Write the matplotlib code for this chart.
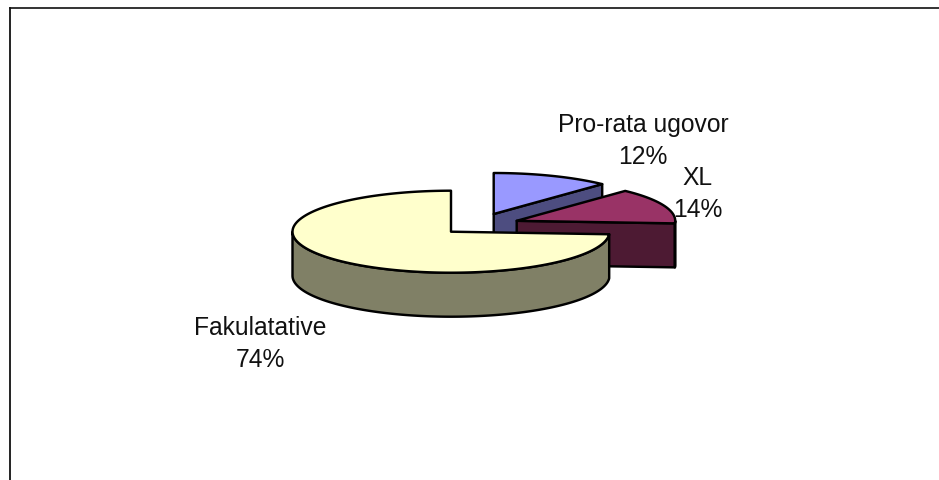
import numpy as np
import matplotlib.pyplot as plt
from matplotlib.patches import Polygon

labels = ["Pro-rata ugovor", "XL", "Fakulatative"]
shares = [12, 14, 74]
top_colors = ["#9999ff", "#993366", "#ffffcc"]
side_colors = ["#4d4d80", "#4d1a33", "#808066"]

# apex of each exploded slice in image pixels
centers = [(493.7, 215.0), (516.7, 221.8), (451.0, 232.7)]
label_pos = [(643, 141), (698, 194), (260.5, 344)]

RX = 158.5
RY = 41.0
DEPTH = 44.0


def arc(cx, cy, a0, a1):
    t = np.radians(np.linspace(a0, a1, 200))
    return np.column_stack([cx + RX * np.cos(t), cy - RY * np.sin(t)])


def add_poly(ax, pts, color):
    ax.add_patch(Polygon(pts, closed=True, facecolor=color, edgecolor="black",
                         linewidth=1.75, joinstyle="round"))


fig = plt.figure(figsize=(9.39, 4.81), dpi=100)
ax = fig.add_axes([0, 0, 1, 1])
ax.set_xlim(0, 939)
ax.set_ylim(481, 0)
ax.axis("off")

ax.plot([10, 939], [8.7, 8.7], color="#111111", lw=1.2)
ax.plot([10, 10], [8.7, 481], color="#111111", lw=1.3)

start = 90.0
for i in range(len(shares)):
    end = start - shares[i] * 3.6
    cx, cy = centers[i]
    rim = arc(cx, cy, start, end)
    shift = np.array([0, DEPTH])
    apex = np.array([[cx, cy]])

    # cut face looking to the front, only when the slice ends on the right
    if end > -90:
        cut = np.vstack([apex, rim[-1:], rim[-1:] + shift, apex + shift])
        add_poly(ax, cut, side_colors[i])

    # outer wall, front half of the rim only
    a = np.linspace(start, end, 400)
    a = a[((a + 360) % 360) >= 180]
    if len(a):
        wall = arc(cx, cy, a[0], a[-1])
        add_poly(ax, np.vstack([wall, (wall + shift)[::-1]]), side_colors[i])

    add_poly(ax, np.vstack([apex, rim]), top_colors[i])
    start = end

for i in range(len(labels)):
    x, y = label_pos[i]
    ax.text(x, y, "%s\n%d%%" % (labels[i], shares[i]), ha="center", va="center",
            family="Liberation Sans", fontsize=17.7, linespacing=1.46, color="#111111")

fig.savefig("out.png", dpi=100)
